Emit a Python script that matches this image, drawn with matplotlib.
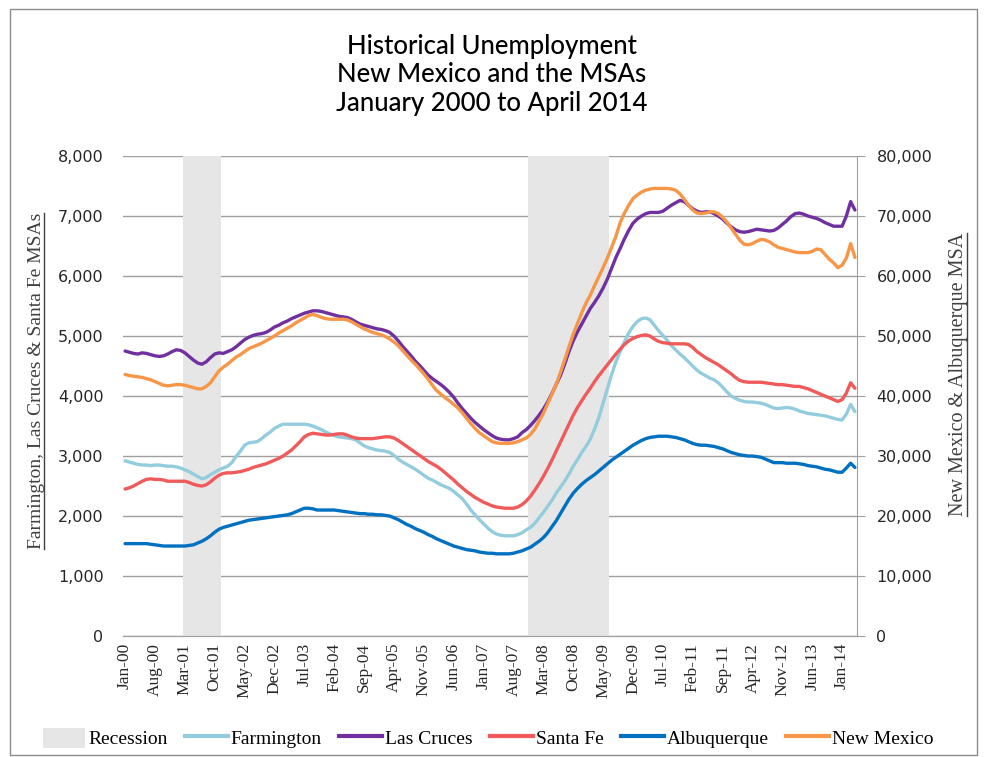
import matplotlib
matplotlib.use("Agg")
import matplotlib.pyplot as plt
import pandas as pd
from matplotlib.patches import Rectangle, Patch
from matplotlib.lines import Line2D

# monthly unemployed persons, Jan 2000 - Apr 2014
months = pd.date_range("2000-01", "2014-04", freq="MS").strftime("%b-%y").tolist()

tick_labels = ["Jan-00", "Aug-00", "Mar-01", "Oct-01", "May-02", "Dec-02", "Jul-03",
               "Feb-04", "Sep-04", "Apr-05", "Nov-05", "Jun-06", "Jan-07", "Aug-07",
               "Mar-08", "Oct-08", "May-09", "Dec-09", "Jul-10", "Feb-11", "Sep-11",
               "Apr-12", "Nov-12", "Jun-13", "Jan-14"]

recessions = [("Mar-01", "Nov-01"), ("Dec-07", "Jun-09")]

farmington = [
    2920, 2900, 2880, 2860, 2850, 2850, 2840, 2850, 2850, 2840, 2830, 2830,
    2820, 2800, 2770, 2740, 2700, 2660, 2620, 2640, 2690, 2730, 2770, 2800,
    2830, 2890, 2990, 3080, 3180, 3220, 3230, 3240, 3290, 3350, 3400, 3460,
    3500, 3530, 3530, 3530, 3530, 3530, 3530, 3520, 3500, 3470, 3440, 3400,
    3370, 3340, 3320, 3310, 3300, 3290, 3270, 3220, 3170, 3140, 3120, 3100,
    3090, 3080, 3060, 3010, 2950, 2900, 2860, 2820, 2780, 2730, 2680, 2630,
    2600, 2560, 2520, 2490, 2460, 2410, 2350, 2290, 2200, 2100, 2020, 1940,
    1870, 1800, 1740, 1700, 1680, 1670, 1670, 1670, 1690, 1720, 1770, 1810,
    1880, 1970, 2060, 2160, 2260, 2380, 2480, 2580, 2700, 2830, 2940, 3060,
    3160, 3280, 3450, 3640, 3880, 4120, 4360, 4570, 4740, 4900, 5050, 5160,
    5240, 5290, 5300, 5270, 5180, 5090, 5010, 4930, 4840, 4770, 4700, 4640,
    4570, 4500, 4430, 4380, 4340, 4300, 4270, 4220, 4150, 4070, 4000, 3960,
    3930, 3910, 3900, 3900, 3890, 3880, 3860, 3830, 3800, 3790, 3800, 3810,
    3800, 3780, 3750, 3730, 3710, 3700, 3690, 3680, 3670, 3650, 3630, 3610,
    3600, 3700, 3860, 3740,
]

las_cruces = [
    4750, 4730, 4710, 4700, 4720, 4710, 4690, 4670, 4660, 4670, 4700, 4740,
    4770, 4760, 4720, 4660, 4600, 4550, 4530, 4570, 4640, 4700, 4720, 4710,
    4740, 4770, 4820, 4880, 4940, 4980, 5010, 5030, 5040, 5060, 5100, 5150,
    5180, 5220, 5250, 5290, 5320, 5350, 5380, 5400, 5420, 5420, 5410, 5390,
    5370, 5350, 5330, 5320, 5310, 5280, 5240, 5200, 5180, 5160, 5140, 5120,
    5110, 5090, 5060, 5000, 4920, 4830, 4750, 4670, 4580, 4510, 4430, 4350,
    4290, 4240, 4190, 4130, 4060, 3980, 3880, 3790, 3710, 3630, 3560, 3500,
    3440, 3390, 3340, 3300, 3280, 3270, 3270, 3290, 3320, 3390, 3440, 3510,
    3590, 3680, 3780, 3900, 4040, 4190, 4340, 4530, 4740, 4920, 5070, 5200,
    5330, 5460, 5560, 5670, 5800, 5950, 6130, 6310, 6460, 6620, 6760, 6880,
    6950, 7000, 7040, 7060, 7060, 7060, 7080, 7130, 7180, 7220, 7260, 7240,
    7180, 7120, 7080, 7060, 7070, 7070, 7040, 7000, 6950, 6880, 6820, 6770,
    6740, 6730, 6740, 6760, 6780, 6770, 6760, 6750, 6760, 6800, 6860, 6920,
    6990, 7040, 7050, 7030, 7000, 6980, 6960, 6930, 6890, 6860, 6830, 6830,
    6830, 7000, 7240, 7100,
]

santa_fe = [
    2450, 2470, 2500, 2540, 2580, 2610, 2620, 2610, 2610, 2600, 2580, 2580,
    2580, 2580, 2580, 2560, 2530, 2510, 2500, 2520, 2570, 2630, 2680, 2710,
    2720, 2720, 2730, 2740, 2760, 2780, 2810, 2830, 2850, 2870, 2900, 2930,
    2960, 3000, 3050, 3100, 3170, 3240, 3320, 3360, 3380, 3370, 3360, 3350,
    3350, 3360, 3370, 3370, 3350, 3320, 3300, 3290, 3290, 3290, 3290, 3300,
    3310, 3320, 3320, 3300, 3260, 3210, 3160, 3110, 3060, 3010, 2960, 2910,
    2870, 2830, 2780, 2720, 2660, 2600, 2530, 2470, 2410, 2360, 2310, 2270,
    2230, 2200, 2170, 2150, 2140, 2130, 2130, 2130, 2150, 2190, 2250, 2330,
    2430, 2540, 2660, 2790, 2930, 3080, 3230, 3380, 3530, 3680, 3810, 3920,
    4030, 4130, 4240, 4340, 4430, 4520, 4610, 4700, 4780, 4860, 4920, 4960,
    4990, 5010, 5020, 5000, 4950, 4910, 4890, 4880, 4870, 4870, 4870, 4870,
    4860, 4810, 4740, 4690, 4640, 4600, 4560, 4520, 4470, 4420, 4370, 4310,
    4260, 4240, 4230, 4230, 4230, 4230, 4220, 4210, 4200, 4190, 4190, 4180,
    4170, 4160, 4160, 4140, 4120, 4090, 4060, 4030, 4000, 3970, 3940, 3910,
    3940, 4050, 4220, 4130,
]

albuquerque = [
    15400, 15400, 15400, 15400, 15400, 15400, 15300, 15200, 15100, 15000, 15000, 15000,
    15000, 15000, 15000, 15100, 15200, 15500, 15800, 16200, 16700, 17300, 17800, 18100,
    18300, 18500, 18700, 18900, 19100, 19300, 19400, 19500, 19600, 19700, 19800, 19900,
    20000, 20100, 20200, 20400, 20700, 21000, 21300, 21300, 21200, 21000, 21000, 21000,
    21000, 21000, 20900, 20800, 20700, 20600, 20500, 20400, 20400, 20300, 20300, 20200,
    20200, 20100, 20000, 19700, 19400, 19000, 18600, 18300, 17900, 17600, 17300, 16900,
    16600, 16200, 15900, 15600, 15300, 15000, 14800, 14600, 14400, 14300, 14200, 14000,
    13900, 13800, 13800, 13700, 13700, 13700, 13700, 13800, 14000, 14200, 14500, 14800,
    15300, 15800, 16400, 17200, 18200, 19200, 20400, 21600, 22800, 23800, 24600, 25300,
    25900, 26400, 26900, 27500, 28100, 28700, 29300, 29800, 30300, 30800, 31300, 31800,
    32200, 32600, 32900, 33100, 33200, 33300, 33300, 33300, 33200, 33100, 32900, 32700,
    32400, 32100, 31900, 31800, 31800, 31700, 31600, 31400, 31200, 30900, 30600, 30400,
    30200, 30100, 30000, 30000, 29900, 29800, 29500, 29200, 28900, 28900, 28900, 28800,
    28800, 28800, 28700, 28600, 28400, 28300, 28200, 28000, 27800, 27700, 27500, 27300,
    27300, 28000, 28800, 28100,
]

new_mexico = [
    43600, 43400, 43300, 43200, 43100, 42900, 42700, 42400, 42100, 41800, 41700, 41800,
    41900, 41900, 41800, 41600, 41400, 41200, 41200, 41600, 42200, 43200, 44200, 44800,
    45300, 45900, 46500, 46900, 47400, 47900, 48200, 48500, 48800, 49200, 49600, 50000,
    50500, 50900, 51300, 51700, 52200, 52600, 53000, 53400, 53600, 53400, 53100, 52900,
    52800, 52800, 52800, 52800, 52700, 52400, 52000, 51600, 51200, 50900, 50600, 50400,
    50200, 49900, 49500, 49000, 48400, 47600, 46800, 46000, 45300, 44500, 43700, 42800,
    41800, 40900, 40300, 39700, 39200, 38600, 38000, 37200, 36300, 35400, 34600, 33900,
    33400, 32900, 32400, 32200, 32100, 32100, 32100, 32200, 32400, 32700, 33000, 33600,
    34500, 35800, 37100, 38700, 40300, 41900, 43900, 46000, 48200, 50300, 52100, 53900,
    55500, 56800, 58400, 59900, 61400, 63000, 64800, 66600, 68900, 70500, 71800, 72900,
    73500, 74000, 74300, 74500, 74600, 74600, 74600, 74600, 74500, 74300, 73700, 72800,
    71800, 71000, 70500, 70400, 70500, 70700, 70700, 70400, 69800, 69000, 68000, 67000,
    66000, 65300, 65200, 65400, 65800, 66100, 66000, 65700, 65200, 64800, 64600, 64400,
    64200, 64000, 63900, 63900, 63900, 64100, 64500, 64400, 63600, 62800, 62200, 61400,
    61800, 63000, 65400, 63100,
]

c_farm = "#93CDDD"
c_lc = "#7030A0"
c_sf = "#F15A5A"
c_abq = "#0070C0"
c_nm = "#F79646"
c_rec = "#E6E6E6"
c_grid = "#A0A0A0"

serif = "Liberation Serif"

fig = plt.figure(figsize=(9.86, 7.57), dpi=100)
ax = fig.add_axes([0.1247, 0.1598, 0.7445, 0.6341])
ax2 = ax.twinx()

x = list(range(len(months)))

# recession shading as full-height columns
for start, end in recessions:
    i0, i1 = months.index(start), months.index(end)
    ax.bar(range(i0, i1 + 1), [8000] * (i1 - i0 + 1), width=1.0,
           color=c_rec, zorder=1, linewidth=0)

ax.set_axisbelow(True)
ax.yaxis.grid(True, color=c_grid, linewidth=1.0, zorder=0)

lw = 2.4
ax.plot(x, farmington, color=c_farm, lw=lw, zorder=3, solid_capstyle="round")
ax.plot(x, las_cruces, color=c_lc, lw=lw, zorder=3, solid_capstyle="round")
ax.plot(x, santa_fe, color=c_sf, lw=lw, zorder=3, solid_capstyle="round")
ax2.plot(x, albuquerque, color=c_abq, lw=lw, zorder=3, solid_capstyle="round")
ax2.plot(x, new_mexico, color=c_nm, lw=lw, zorder=3, solid_capstyle="round")

ax.set_xlim(-0.5, len(months) - 0.5)
ax.set_ylim(0, 8000)
ax2.set_ylim(0, 80000)

ax.set_yticks(range(0, 8001, 1000))
ax.set_yticklabels([f"{v:,}" for v in range(0, 8001, 1000)],
                   fontsize=11.5, color="#262626", family="DejaVu Sans")
ax2.set_yticks(range(0, 80001, 10000))
ax2.set_yticklabels([f"{v:,}" for v in range(0, 80001, 10000)],
                    fontsize=11.5, color="#262626", family="DejaVu Sans")

ax.set_xticks([months.index(t) for t in tick_labels])
ax.set_xticklabels(tick_labels, rotation=90, fontsize=12.5, family=serif,
                   color="#262626")

ax.tick_params(axis="x", length=0, pad=5)
ax.tick_params(axis="y", length=0, pad=14)
ax2.tick_params(axis="y", length=6, direction="out", color=c_grid, pad=8)

for a in (ax, ax2):
    a.spines["top"].set_visible(False)
    a.spines["left"].set_visible(False)
    a.spines["right"].set_visible(False)
    a.spines["bottom"].set_color(c_grid)
ax2.spines["right"].set_visible(True)
ax2.spines["right"].set_color(c_grid)

fig.text(0.499, 0.901, "Historical Unemployment\nNew Mexico and the MSAs\nJanuary 2000 to April 2014",
         ha="center", va="center", fontsize=18.5, family="Lato", linespacing=1.17,
         fontweight="medium")

lt = fig.text(0.037, 0.497, "Farmington, Las Cruces & Santa Fe MSAs", rotation=90,
              ha="center", va="center", fontsize=14, family=serif, color="#404040")
rt = fig.text(0.972, 0.505, "New Mexico & Albuquerque MSA", rotation=90,
              ha="center", va="center", fontsize=14.5, family=serif, color="#404040")

# underline the axis titles (baseline sits on the right once rotated)
fig.canvas.draw()
renderer = fig.canvas.get_renderer()
inv = fig.transFigure.inverted()
for t in (lt, rt):
    bb = t.get_window_extent(renderer).transformed(inv)
    fig.add_artist(Line2D([bb.x1 - 0.001, bb.x1 - 0.001], [bb.y0, bb.y1],
                          transform=fig.transFigure, color="#404040", lw=1.0))

handles = [
    Patch(facecolor=c_rec, edgecolor="none"),
    Line2D([], [], color=c_farm, lw=3),
    Line2D([], [], color=c_lc, lw=3),
    Line2D([], [], color=c_sf, lw=3),
    Line2D([], [], color=c_abq, lw=3),
    Line2D([], [], color=c_nm, lw=3),
]
names = ["Recession", "Farmington", "Las Cruces", "Santa Fe", "Albuquerque", "New Mexico"]
fig.legend(handles, names, loc="center", bbox_to_anchor=(0.495, 0.025), ncol=6,
           frameon=False, prop={"family": serif, "size": 14}, handlelength=2.2,
           handleheight=1.2, handletextpad=0.15, columnspacing=0.9)

fig.add_artist(Rectangle((0.010, 0.003), 0.981, 0.985, transform=fig.transFigure,
                         fill=False, edgecolor="#8C8C8C", lw=1.0))

fig.savefig("out.png", dpi=100)
